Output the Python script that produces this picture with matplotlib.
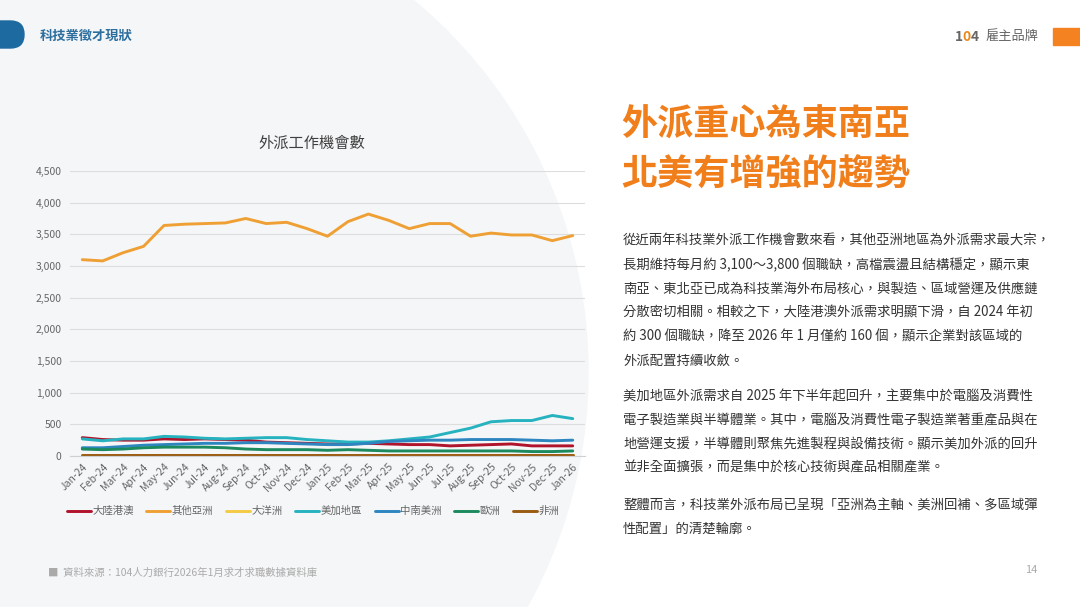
import matplotlib
matplotlib.use("Agg")
import matplotlib.pyplot as plt
from matplotlib.patches import Circle, FancyBboxPatch, Rectangle

plt.rcParams['font.family'] = ['Noto Sans CJK TC', 'DejaVu Sans']

months = ["Jan-24", "Feb-24", "Mar-24", "Apr-24", "May-24", "Jun-24", "Jul-24", "Aug-24",
          "Sep-24", "Oct-24", "Nov-24", "Dec-24", "Jan-25", "Feb-25", "Mar-25", "Apr-25",
          "May-25", "Jun-25", "Jul-25", "Aug-25", "Sep-25", "Oct-25", "Nov-25", "Dec-25", "Jan-26"]

mainland = [290, 260, 250, 250, 270, 260, 270, 260, 250, 220, 210, 200, 190, 190, 200, 190,
            180, 180, 160, 170, 180, 190, 160, 160, 160]
other_asia = [3100, 3080, 3210, 3310, 3640, 3660, 3670, 3680, 3750, 3670, 3690, 3590, 3470,
              3700, 3820, 3720, 3590, 3670, 3670, 3470, 3520, 3490, 3490, 3400, 3480]
oceania = [15, 15, 15, 15, 15, 15, 15, 15, 15, 15, 15, 15, 15, 15, 15, 15,
           15, 15, 15, 15, 15, 15, 15, 15, 15]
us_canada = [270, 240, 270, 270, 310, 300, 280, 270, 280, 290, 290, 260, 240, 220, 220, 240,
             270, 300, 370, 440, 540, 560, 560, 640, 590]
latam = [130, 130, 150, 170, 180, 190, 200, 200, 210, 210, 200, 190, 180, 180, 200, 230,
         240, 250, 250, 260, 260, 260, 250, 240, 250]
europe = [110, 100, 110, 130, 140, 140, 140, 130, 110, 100, 100, 100, 90, 100, 90, 80,
          80, 80, 80, 80, 80, 80, 70, 70, 80]
africa = [8, 8, 8, 8, 8, 8, 8, 8, 8, 8, 8, 8, 8, 8, 8, 8,
          8, 8, 8, 8, 8, 8, 8, 8, 8]

series = [("大陸港澳", mainland, "#B0142C"),
          ("其他亞洲", other_asia, "#EFA035"),
          ("大洋洲", oceania, "#F4CB45"),
          ("美加地區", us_canada, "#26B3BF"),
          ("中南美洲", latam, "#2E86C1"),
          ("歐洲", europe, "#1B8A5E"),
          ("非洲", africa, "#9A5B12")]

body1 = ["從近兩年科技業外派工作機會數來看，其他亞洲地區為外派需求最大宗，",
         "長期維持每月約 3,100～3,800 個職缺，高檔震盪且結構穩定，顯示東",
         "南亞、東北亞已成為科技業海外布局核心，與製造、區域營運及供應鏈",
         "分散密切相關。相較之下，大陸港澳外派需求明顯下滑，自 2024 年初",
         "約 300 個職缺，降至 2026 年 1 月僅約 160 個，顯示企業對該區域的",
         "外派配置持續收斂。"]
body2 = ["美加地區外派需求自 2025 年下半年起回升，主要集中於電腦及消費性",
         "電子製造業與半導體業。其中，電腦及消費性電子製造業著重產品與在",
         "地營運支援，半導體則聚焦先進製程與設備技術。顯示美加外派的回升",
         "並非全面擴張，而是集中於核心技術與產品相關產業。"]
body3 = ["整體而言，科技業外派布局已呈現「亞洲為主軸、美洲回補、多區域彈",
         "性配置」的清楚輪廓。"]

W, H = 1080, 607
fig = plt.figure(figsize=(W / 100, H / 100), dpi=100)
fig.patch.set_facecolor("white")

# background layer in pixel coordinates
bg = fig.add_axes([0, 0, 1, 1])
bg.set_xlim(0, W)
bg.set_ylim(H, 0)
bg.axis("off")
bg.add_patch(Rectangle((0, 0), W, H, color="white", zorder=0))
bg.add_patch(Circle((105, 372), 483, color="#F5F6F8", zorder=1))
bg.add_patch(FancyBboxPatch((-30, 21), 54, 27, boxstyle="round,pad=0,rounding_size=13.5",
                            color="#1D6AA1", zorder=2))
bg.text(40, 36, "科技業徵才現狀", color="#2C6E9E", fontsize=9.5, fontweight="bold",
        va="center", ha="left", zorder=3)
bg.text(955, 37, "1", color="#666666", fontsize=10, fontweight="bold", va="center",
        ha="left", zorder=3)
bg.text(962, 37, "0", color="#E8891C", fontsize=10, fontweight="bold", va="center",
        ha="left", zorder=3)
bg.text(971, 37, "4", color="#666666", fontsize=10, fontweight="bold", va="center",
        ha="left", zorder=3)
bg.text(985, 36, "雇主品牌", color="#666666", fontsize=9.5, va="center", ha="left", zorder=3)
bg.add_patch(Rectangle((1053, 28), 30, 17, color="#F58220", zorder=3))

bg.text(312, 143, "外派工作機會數", color="#404040", fontsize=11, ha="center", va="center",
        zorder=3)

bg.text(621, 125, "外派重心為東南亞", color="#F07E1B", fontsize=26, fontweight="heavy",
        ha="left", va="center", zorder=3)
bg.text(621, 175, "北美有增強的趨勢", color="#F07E1B", fontsize=26, fontweight="heavy",
        ha="left", va="center", zorder=3)

y = 241
for line in body1:
    bg.text(623, y, line, color="#333333", fontsize=9.6, ha="left", va="center", zorder=3)
    y += 24
y = 396
for line in body2:
    bg.text(623, y, line, color="#333333", fontsize=9.6, ha="left", va="center", zorder=3)
    y += 24
y = 505
for line in body3:
    bg.text(623, y, line, color="#333333", fontsize=9.6, ha="left", va="center", zorder=3)
    y += 24

bg.text(48, 573, "■  資料來源：104人力銀行2026年1月求才求職數據資料庫", color="#AAAAAA",
        fontsize=7.5, ha="left", va="center", zorder=3)
bg.text(1037, 570, "14", color="#AAAAAA", fontsize=8, ha="right", va="center", zorder=3)

# chart
ax = fig.add_axes([70 / W, (H - 456) / H, 515 / W, 285 / H])
ax.set_facecolor("none")
x = list(range(len(months)))
for name, vals, col in series:
    ax.plot(x, vals, color=col, lw=2.1, label=name, solid_capstyle="round")

ax.set_xlim(-0.6, len(months) - 0.4)
ax.set_ylim(0, 4500)
ax.set_yticks(range(0, 4501, 500))
ax.set_yticklabels([f"{v:,}" for v in range(0, 4501, 500)])
ax.set_xticks(x)
ax.set_xticklabels(months, rotation=45, ha="right", rotation_mode="anchor")
ax.tick_params(axis="both", length=0, labelsize=7.5, labelcolor="#666666")
ax.tick_params(axis="y", pad=6)
ax.tick_params(axis="x", pad=4)
ax.grid(axis="y", color="#DDDDDD", lw=0.8)
ax.set_axisbelow(True)
for s in ["top", "right", "left"]:
    ax.spines[s].set_visible(False)
ax.spines["bottom"].set_color("#D0D0D0")

fig.legend(loc="center", bbox_to_anchor=(313 / W, (H - 511) / H), ncol=7, frameon=False,
           fontsize=7.5, handlelength=2.3, handletextpad=0.15, columnspacing=1.2,
           labelcolor="#666666")

fig.savefig("out.png", dpi=100)
